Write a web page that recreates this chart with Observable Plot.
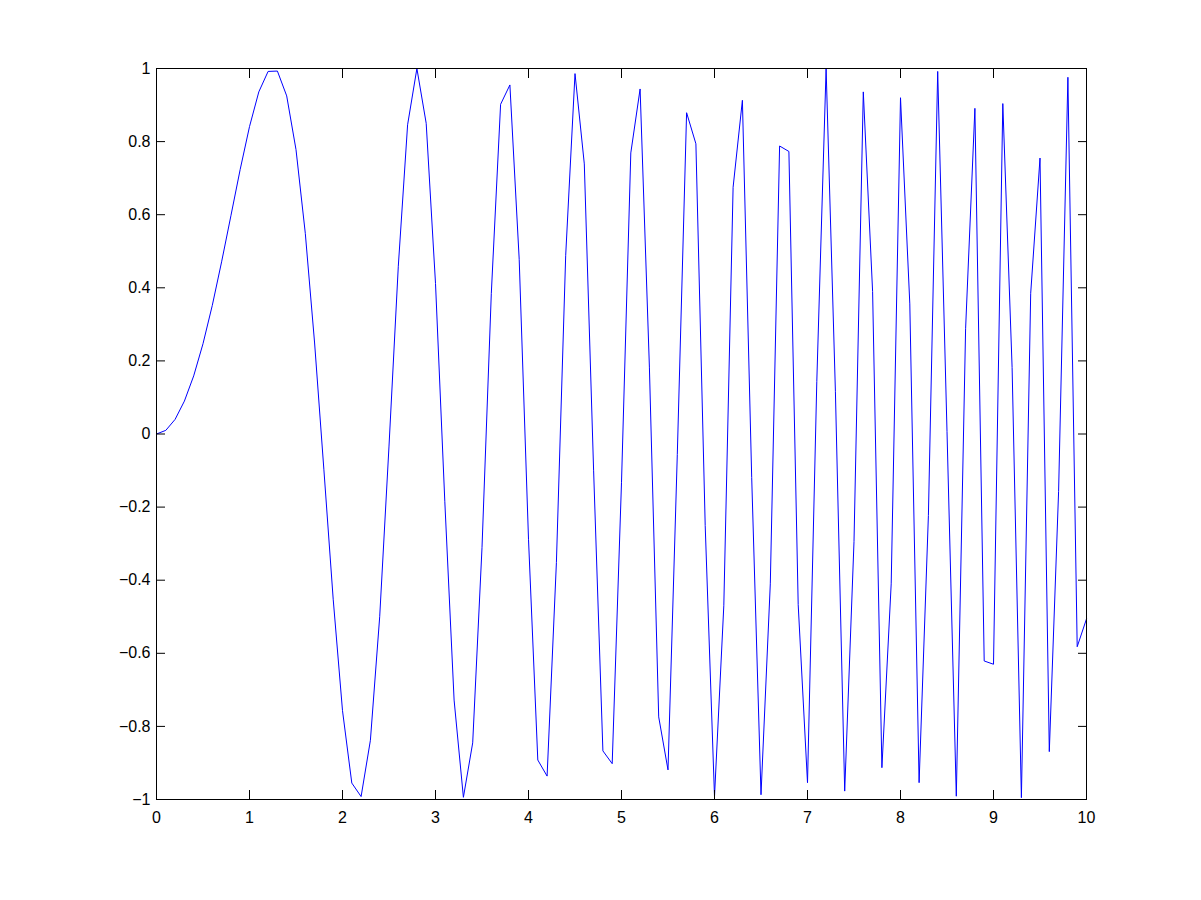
<!DOCTYPE html>
<html>
<head>
<meta charset="utf-8">
<script src="https://cdn.jsdelivr.net/npm/d3@7"></script>
<script src="https://cdn.jsdelivr.net/npm/@observablehq/plot@0.6"></script>
<style>
html, body { margin: 0; padding: 0; background: #fff; }
#chart svg { display: block; }
</style>
</head>
<body>
<div id="chart"></div>
<script>
const xValues = [0.0,0.1,0.2,0.3,0.4,0.5,0.6,0.7,0.8,0.9,
  1.0,1.1,1.2,1.3,1.4,1.5,1.6,1.7,1.8,1.9,
  2.0,2.1,2.2,2.3,2.4,2.5,2.6,2.7,2.8,2.9,
  3.0,3.1,3.2,3.3,3.4,3.5,3.6,3.7,3.8,3.9,
  4.0,4.1,4.2,4.3,4.4,4.5,4.6,4.7,4.8,4.9,
  5.0,5.1,5.2,5.3,5.4,5.5,5.6,5.7,5.8,5.9,
  6.0,6.1,6.2,6.3,6.4,6.5,6.6,6.7,6.8,6.9,
  7.0,7.1,7.2,7.3,7.4,7.5,7.6,7.7,7.8,7.9,
  8.0,8.1,8.2,8.3,8.4,8.5,8.6,8.7,8.8,8.9,
  9.0,9.1,9.2,9.3,9.4,9.5,9.6,9.7,9.8,9.9,10.0];
const yValues = [0.000,0.010,0.040,0.090,0.159,0.247,0.352,0.471,0.597,0.724,
  0.841,0.936,0.992,0.993,0.925,0.778,0.549,0.249,-0.098,-0.452,
  -0.757,-0.955,-0.992,-0.838,-0.500,-0.033,0.459,0.846,1.000,0.850,
  0.412,-0.184,-0.728,-0.994,-0.845,-0.311,0.384,0.902,0.955,0.478,
  -0.288,-0.892,-0.936,-0.352,0.489,0.986,0.739,-0.099,-0.867,-0.902,
  -0.132,0.769,0.944,0.183,-0.774,-0.919,-0.056,0.879,0.794,-0.250,
  -0.992,-0.470,0.675,0.913,-0.119,-0.987,-0.410,0.788,0.773,-0.467,
  -0.954,0.144,1.000,0.117,-0.977,-0.294,0.936,0.390,-0.913,-0.410,
  0.920,0.356,-0.954,-0.223,0.992,0.007,-0.991,0.288,0.891,-0.621,
  -0.630,0.904,0.182,-0.995,0.385,0.755,-0.869,-0.157,0.976,-0.582,-0.506];
const xTicks = [0,1,2,3,4,5,6,7,8,9,10];
const yTicks = [-1,-0.8,-0.6,-0.4,-0.2,0,0.2,0.4,0.6,0.8,1];
const xTickLabels = ["0","1","2","3","4","5","6","7","8","9","10"];
const yTickLabels = ["\u22121","\u22120.8","\u22120.6","\u22120.4","\u22120.2","0","0.2","0.4","0.6","0.8","1"];

const data = xValues.map((x, i) => ({x, y: yValues[i]}));
const fmtX = d => xTickLabels[xTicks.indexOf(d)];
const fmtY = d => yTickLabels[yTicks.indexOf(d)];

const chart = Plot.plot({
  width: 1201,
  height: 900,
  marginLeft: 156,
  marginRight: 115,
  marginTop: 68,
  marginBottom: 101,
  style: {fontFamily: "'Liberation Sans', Arial, sans-serif", fontSize: "16px", color: "#000", background: "#fff"},
  x: {domain: [0, 10]},
  y: {domain: [-1, 1]},
  marks: [
    Plot.line(data, {x: "x", y: "y", stroke: "#0000ff", strokeWidth: 1}),
    Plot.frame({stroke: "#000", strokeWidth: 1}),
    Plot.axisX(xTicks, {anchor: "bottom", tickSize: 9, dy: -9, text: null, label: null}),
    Plot.axisX(xTicks, {anchor: "top", tickSize: 9, dy: 9, text: null, label: null}),
    Plot.axisY(yTicks, {anchor: "left", tickSize: 9, dx: 9, text: null, label: null}),
    Plot.axisY(yTicks, {anchor: "right", tickSize: 9, dx: -9, text: null, label: null}),
    Plot.axisX(xTicks, {anchor: "bottom", tickSize: 0, tickPadding: 12, tickFormat: fmtX, fontSize: 16, label: null}),
    Plot.axisY(yTicks, {anchor: "left", tickSize: 0, tickPadding: 6, tickFormat: fmtY, fontSize: 16, label: null})
  ]
});
document.getElementById("chart").appendChild(chart);
</script>
</body>
</html>
